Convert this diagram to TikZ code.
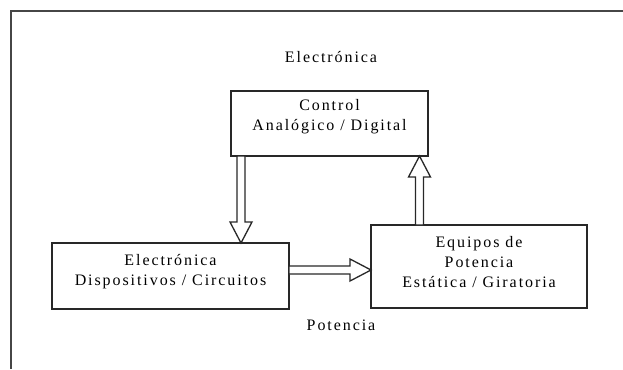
\documentclass[tikz,border=0pt]{standalone}
\usepackage{fontspec}
\usepackage{tikz}
\usetikzlibrary{calc}
\newfontfamily\diagfont{Liberation Serif}[LetterSpace=12]
\definecolor{framecolor}{RGB}{70,70,70}
\definecolor{linecolor}{RGB}{40,40,40}

\tikzset{
  blockbox/.style={draw=linecolor,line width=1.5bp,inner sep=0pt,outer sep=0pt},
  blocktext/.style={inner sep=0pt,outer sep=0pt,align=center,font=\diagfont\fontsize{16bp}{20bp}\selectfont},
  arrowline/.style={draw=linecolor,line width=1.3bp,line join=miter,fill=white}
}

% hollow block arrow from #1 to #2
\newcommand{\hollowarrow}[2]{%
  \coordinate (ha) at (#1);
  \coordinate (hb) at ($(#2)!21bp!(#1)$);
  \draw[arrowline] ($(ha)!4bp!90:(hb)$) -- ($(hb)!4bp!-90:(ha)$) -- ($(hb)!11bp!-90:(ha)$)
    -- (#2) -- ($(hb)!11bp!90:(ha)$) -- ($(hb)!4bp!90:(ha)$) -- ($(ha)!4bp!-90:(hb)$) -- cycle;}

\begin{document}
\begin{tikzpicture}[x=1bp,y=-1bp]
  \useasboundingbox (0,0) rectangle (623,369);
  \fill[white] (0,0) rectangle (623,369);
  % frame
  \draw[framecolor,line width=2bp] (623,11) -- (10.5,11) -- (10.5,369);

  % blocks
  \node[blockbox,minimum width=197bp,minimum height=65bp] (ctrl) at (329.5,123.5) {};
  \node[blockbox,minimum width=237bp,minimum height=66bp] (elec) at (170.5,276) {};
  \node[blockbox,minimum width=216bp,minimum height=83bp] (equip) at (479,266.5) {};

  \node[blocktext] (ctrltxt) at ([yshift=7bp]ctrl.center) {Control\\Analógico / Digital};
  \node[blocktext] (electxt) at ([yshift=4bp]elec.center) {Electrónica\\Dispositivos / Circuitos};
  \node[blocktext] (equiptxt) at ([yshift=4bp]equip.center) {Equipos de\\Potencia\\Estática / Giratoria};

  % outer labels
  \node[blocktext] (toplabel) at (331,57) {Electrónica};
  \node[blocktext] (botlabel) at (341,325) {Potencia};

  % arrows
  \hollowarrow{[xshift=10bp]ctrl.south west}{[xshift=10bp]ctrl.south west |- elec.north}
  \hollowarrow{[xshift=-8.5bp]ctrl.south east |- equip.north}{[xshift=-8.5bp]ctrl.south east}
  \hollowarrow{[yshift=6bp]elec.east}{[yshift=6bp]elec.east -| equip.west}
\end{tikzpicture}
\end{document}
